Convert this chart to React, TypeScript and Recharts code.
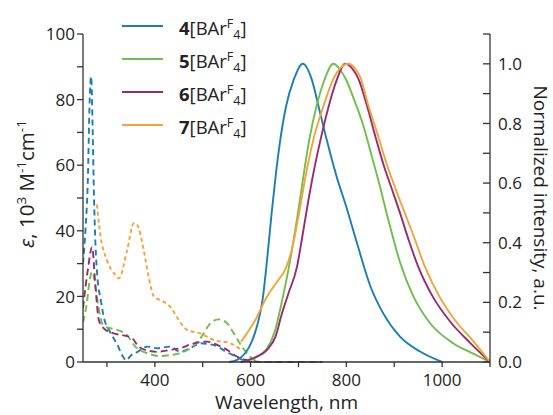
import { ComposedChart, Line, XAxis, YAxis, Legend } from 'recharts';

// emission (solid, right axis)
const em4Nm = [555, 572, 589, 601, 613, 625, 633, 644, 653, 662, 674, 690, 709, 728, 742, 759, 780, 800, 822, 850, 877, 912, 954, 1000];
const em4Int = [0, 0.007, 0.03, 0.063, 0.118, 0.208, 0.32, 0.5, 0.633, 0.745, 0.857, 0.946, 1.0, 0.946, 0.857, 0.745, 0.62, 0.52, 0.4, 0.255, 0.163, 0.085, 0.035, 0];
const em5Nm = [578, 606, 634, 650, 665, 679, 690, 700, 710, 722, 738, 754, 773, 787, 800, 815, 836, 853, 870, 884, 897, 912, 940, 975, 1023, 1065, 1100];
const em5Int = [0, 0.012, 0.045, 0.1, 0.2, 0.31, 0.41, 0.51, 0.62, 0.74, 0.86, 0.945, 1.0, 0.98, 0.945, 0.885, 0.79, 0.69, 0.59, 0.5, 0.42, 0.335, 0.22, 0.13, 0.063, 0.028, 0];
const em6Nm = [580, 596, 613, 634, 652, 665, 679, 697, 709, 720, 732, 746, 763, 780, 797, 812, 825, 843, 860, 878, 895, 912, 930, 950, 982, 1017, 1058, 1100];
const em6Int = [0, 0.007, 0.018, 0.04, 0.085, 0.16, 0.23, 0.32, 0.43, 0.535, 0.64, 0.745, 0.857, 0.946, 1.0, 0.985, 0.95, 0.86, 0.76, 0.66, 0.58, 0.5, 0.41, 0.32, 0.215, 0.135, 0.065, 0];
const em7Nm = [580, 610, 634, 658, 672, 686, 700, 716, 731, 752, 772, 790, 804, 818, 829, 846, 864, 884, 903, 922, 940, 964, 996, 1027, 1065, 1100];
const em7Int = [0.068, 0.141, 0.219, 0.275, 0.309, 0.376, 0.488, 0.633, 0.745, 0.857, 0.946, 0.99, 1.0, 0.985, 0.955, 0.86, 0.77, 0.665, 0.58, 0.5, 0.425, 0.32, 0.215, 0.14, 0.07, 0];

// absorption (dashed, left axis)
const abs4Nm = [250, 255, 260, 264, 267, 270, 273, 276, 280, 287, 293, 307, 321, 334, 340, 350, 363, 384, 405, 432, 453, 474, 495, 522, 551, 572, 590, 620, 750];
const abs4Eps = [30, 40, 55, 80, 87, 72, 50, 36, 26, 19, 14, 9, 5.5, 1.5, 0.5, 2, 3, 4.7, 4.2, 4.7, 3.1, 4.2, 5.7, 5.2, 3, 1.5, 0.3, 0, 0];
const abs5Nm = [250, 258, 264, 269, 274, 280, 286, 293, 307, 321, 342, 359, 384, 412, 432, 453, 474, 495, 516, 533, 551, 565, 582, 599, 620, 750];
const abs5Eps = [12, 18, 25, 27.5, 25, 19, 13.8, 11, 10.3, 9.8, 8.2, 4.7, 2.7, 1.8, 2.1, 2.7, 4.2, 7.2, 11.8, 13, 11.8, 8.7, 4.7, 1.6, 0, 0];
const abs6Nm = [250, 260, 269, 276, 283, 293, 314, 332, 353, 366, 385, 405, 432, 453, 481, 509, 530, 551, 572, 592, 620, 750];
const abs6Eps = [16.4, 28, 35, 23, 12.8, 10.3, 8.7, 8.2, 7.2, 4.7, 3.5, 3.1, 3.7, 4.2, 5.7, 6.2, 5.2, 3.7, 1.6, 0.6, 0, 0];
const abs7Nm = [279, 286, 300, 318, 325, 342, 356, 363, 377, 387, 398, 418, 432, 450, 467, 495, 523, 558, 578];
const abs7Eps = [48, 39, 31, 26.5, 25.5, 34, 42.3, 41.8, 34, 26, 20, 18.4, 16.9, 12.8, 9.8, 8.7, 6.7, 5.7, 4];

const xTicks = [300, 400, 500, 600, 700, 800, 900, 1000, 1100];
const xLabels = [400, 600, 800, 1000];
const leftTicks = [0, 10, 20, 30, 40, 50, 60, 70, 80, 90, 100];
const rightTicks = [0, 0.1, 0.2, 0.3, 0.4, 0.5, 0.6, 0.7, 0.8, 0.9, 1.0, 1.1];

const BLUE = '#1b7db8';
const GREEN = '#6fbf4a';
const PURPLE = '#9a2a6e';
const ORANGE = '#f2a33a';
const AXIS = '#333';
const TEXT = '#222';
const FONT = 'Open Sans, sans-serif';

const series = [
  { id: '4', color: BLUE, emNm: em4Nm, em: em4Int, absNm: abs4Nm, abs: abs4Eps, dash: '6 4' },
  { id: '5', color: GREEN, emNm: em5Nm, em: em5Int, absNm: abs5Nm, abs: abs5Eps, dash: '7 4' },
  { id: '6', color: PURPLE, emNm: em6Nm, em: em6Int, absNm: abs6Nm, abs: abs6Eps, dash: '7 4' },
  { id: '7', color: ORANGE, emNm: em7Nm, em: em7Int, absNm: abs7Nm, abs: abs7Eps, dash: '4 3' },
];

const toPoints = (xs: number[], ys: number[]) => xs.map((x, i) => ({ x, y: ys[i] }));

function BottomTick(props: any) {
  const { x, y, payload } = props;
  return (
    <g>
      <line x1={x} x2={x} y1={y} y2={y + 5} stroke={AXIS} strokeWidth={1.3} />
      {xLabels.includes(payload.value) && (
        <text x={x} y={y + 24} textAnchor="middle" fontSize={17} fill={TEXT} fontFamily={FONT}>
          {payload.value}
        </text>
      )}
    </g>
  );
}

function LeftTick(props: any) {
  const { x, y, payload } = props;
  return (
    <g>
      <line x1={x - 6} x2={x} y1={y} y2={y} stroke={AXIS} strokeWidth={1.3} />
      {payload.value % 20 === 0 && (
        <text x={x - 8} y={y} dy="0.36em" textAnchor="end" fontSize={17} fill={TEXT} fontFamily={FONT}>
          {payload.value}
        </text>
      )}
    </g>
  );
}

function RightTick(props: any) {
  const { x, y, payload } = props;
  const v = Math.round(payload.value * 10);
  return (
    <g>
      <line x1={x - 7} x2={x} y1={y} y2={y} stroke={AXIS} strokeWidth={1.3} />
      {v % 2 === 0 && v <= 10 && (
        <text x={x + 8} y={y} dy="0.36em" textAnchor="start" fontSize={17} fill={TEXT} fontFamily={FONT}>
          {(v / 10).toFixed(1)}
        </text>
      )}
    </g>
  );
}

function LegendBox() {
  return (
    <svg width={300} height={145} style={{ overflow: 'visible' }}>
      {series.map((s, i) => {
        const cy = 26 + i * 33;
        return (
          <g key={s.id}>
            <line x1={122} x2={163} y1={cy} y2={cy} stroke={s.color} strokeWidth={2} />
            <text x={179} y={cy + 9} fontSize={18.5} fill={TEXT} fontFamily={FONT}>
              <tspan fontWeight="bold">{s.id}</tspan>
              <tspan>[BAr</tspan>
              <tspan dy={-7} fontSize={12.5}>F</tspan>
              <tspan dy={11} fontSize={12.5}>4</tspan>
              <tspan dy={-4}>]</tspan>
            </text>
          </g>
        );
      })}
    </svg>
  );
}

export default function App() {
  return (
    <div style={{ width: 553, height: 415, background: '#fff' }}>
      <style>{'body{margin:0}'}</style>
      <ComposedChart width={553} height={415} margin={{ top: 34, right: 0, bottom: 0, left: 0 }}>
        <XAxis
          type="number"
          dataKey="x"
          domain={[250, 1100]}
          ticks={xTicks}
          interval={0}
          height={53}
          tickSize={0}
          tickMargin={0}
          tickLine={false}
          stroke={AXIS}
          strokeWidth={1.3}
          tick={<BottomTick />}
          allowDataOverflow
          label={{
            content: (p: any) => {
              const vb = p.viewBox;
              return (
                <text x={vb.x + vb.width / 2} y={vb.y + 47} textAnchor="middle" fontSize={19} fill={TEXT} fontFamily={FONT}>
                  Wavelength, nm
                </text>
              );
            },
          }}
        />
        <YAxis
          yAxisId="eps"
          type="number"
          domain={[0, 100]}
          ticks={leftTicks}
          interval={0}
          width={83}
          tickSize={0}
          tickMargin={0}
          tickLine={false}
          stroke={AXIS}
          strokeWidth={1.3}
          tick={<LeftTick />}
          label={{
            content: (p: any) => {
              const vb = p.viewBox;
              const cx = vb.x + 34;
              const cy = vb.y + vb.height / 2 - 14;
              return (
                <text transform={`translate(${cx}, ${cy}) rotate(-90)`} textAnchor="middle" fontSize={20.5} fill={TEXT} fontFamily={FONT}>
                  <tspan fontStyle="italic">ε</tspan>
                  <tspan>, 10</tspan>
                  <tspan dy={-8} fontSize={13.5}>3</tspan>
                  <tspan dy={8}> M</tspan>
                  <tspan dy={-8} fontSize={13.5}>-1</tspan>
                  <tspan dy={8}>cm</tspan>
                  <tspan dy={-8} fontSize={13.5}>-1</tspan>
                </text>
              );
            },
          }}
        />
        <YAxis
          yAxisId="int"
          orientation="right"
          type="number"
          domain={[0, 1.1]}
          ticks={rightTicks}
          interval={0}
          width={63}
          tickSize={0}
          tickMargin={0}
          tickLine={false}
          stroke={AXIS}
          strokeWidth={1.3}
          tick={<RightTick />}
          label={{
            content: (p: any) => {
              const vb = p.viewBox;
              const cx = vb.x + 44;
              const cy = vb.y + vb.height / 2;
              return (
                <text transform={`translate(${cx}, ${cy}) rotate(90)`} textAnchor="middle" fontSize={19} fill={TEXT} fontFamily={FONT}>
                  Normalized intensity, a.u.
                </text>
              );
            },
          }}
        />
        <Legend
          layout="vertical"
          align="center"
          verticalAlign="middle"
          wrapperStyle={{ left: 0, top: 0, width: 300, height: 145 }}
          content={() => <LegendBox />}
        />
        {series.map((s) => (
          <Line
            key={'abs' + s.id}
            yAxisId="eps"
            data={toPoints(s.absNm, s.abs)}
            dataKey="y"
            type="monotone"
            stroke={s.color}
            strokeWidth={1.9}
            strokeDasharray={s.dash}
            dot={false}
            activeDot={false}
            isAnimationActive={false}
            legendType="none"
          />
        ))}
        {series.map((s) => (
          <Line
            key={'em' + s.id}
            yAxisId="int"
            data={toPoints(s.emNm, s.em)}
            dataKey="y"
            type="monotone"
            stroke={s.color}
            strokeWidth={1.9}
            dot={false}
            activeDot={false}
            isAnimationActive={false}
            legendType="none"
          />
        ))}
      </ComposedChart>
    </div>
  );
}
